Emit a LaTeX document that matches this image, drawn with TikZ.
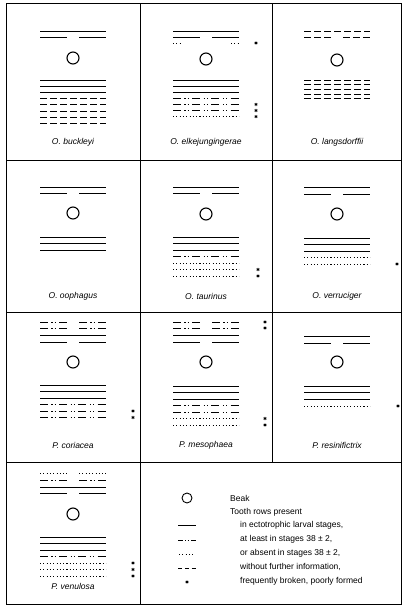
\documentclass[tikz,border=0pt]{standalone}
\usepackage{fontspec}
\setmainfont{Liberation Sans}
\tikzset{
  frame/.style={line width=0.8pt, black},
  tr/.style={line width=0.9pt, line cap=butt, black},
  sol/.style={tr},
  dotr/.style={tr, dash pattern=on 1.1pt off 2.2pt},
  ddr/.style={tr, dash pattern=on 8pt off 3.4pt on 1.2pt off 2pt on 1.2pt off 3.4pt},
  dshr/.style={tr, dash pattern=on 7pt off 3pt},
  beak/.style={circle, draw, line width=1.1pt, minimum size=12pt, inner sep=0pt},
  lab/.style={font=\fontsize{8.5}{10}\selectfont\itshape, inner sep=0pt},
  legt/.style={font=\fontsize{8.5}{10}\selectfont, inner sep=0pt, anchor=west},
  ast/.pic={\draw[line width=0.6pt] (0,-1.6)--(0,1.6) (-1.4,-0.8)--(1.4,0.8) (-1.4,0.8)--(1.4,-0.8);}
}
\newcommand{\rfull}[3]{\draw[#1] ({#2-33},#3) -- ({#2+33},#3);}
\newcommand{\rsegs}[3]{\draw[#1] ({#2-33},#3) -- ({#2-6},#3) ({#2+6},#3) -- ({#2+33},#3);}
\newcommand{\rends}[3]{\draw[#1] ({#2-33},#3) -- ({#2-25},#3) ({#2+25},#3) -- ({#2+33},#3);}
\begin{document}
\begin{tikzpicture}[x=1pt, y=-1pt]
\useasboundingbox (0,0) rectangle (402,605);
% grid
\draw[frame] (6,3) rectangle (401,604);
\draw[frame] (6,160) -- (401,160) (6,312) -- (401,312) (6,462) -- (401,462);
\draw[frame] (140,3) -- (140,604) (272,3) -- (272,462);

% ---------- O. buckleyi ----------
\rfull{sol}{73}{31}
\rsegs{sol}{73}{37}
\node[beak] (bA) at (73,58) {};
\rfull{sol}{73}{80}
\rfull{sol}{73}{86.2}
\rfull{sol}{73}{92.4}
\rfull{dshr}{73}{98.6}
\rfull{dshr}{73}{104.8}
\rfull{dshr}{73}{111}
\rfull{dshr}{73}{117.2}
\rfull{dshr}{73}{123.4}
\node[lab] (lA) at (73,142) {O. buckleyi};

% ---------- O. elkejungingerae ----------
\rfull{sol}{206}{31}
\rsegs{sol}{206}{37}
\rends{dotr}{206}{43}
\pic at (256,43) {ast};
\node[beak] (bB) at (206,59) {};
\rfull{sol}{206}{80}
\rfull{sol}{206}{86.1}
\rfull{sol}{206}{92.2}
\rfull{ddr}{206}{98.3}
\rfull{ddr}{206}{104.4}
\rfull{ddr}{206}{110.5}
\rfull{dotr}{206}{116.6}
\pic at (256,104.4) {ast};
\pic at (256,110.5) {ast};
\pic at (256,116.6) {ast};
\node[lab] (lB) at (206,142) {O. elkejungingerae};

% ---------- O. langsdorffii ----------
\rfull{dshr}{337}{31}
\rsegs{dshr}{337}{37}
\node[beak] (bC) at (337,60) {};
\rfull{dshr}{337}{80}
\rfull{dshr}{337}{84.7}
\rfull{dshr}{337}{89.4}
\rfull{dshr}{337}{94.1}
\rfull{dshr}{337}{98.8}
\node[lab] (lC) at (337,142) {O. langsdorffii};

% ---------- O. oophagus ----------
\rfull{sol}{73}{187}
\rsegs{sol}{73}{193}
\node[beak] (bD) at (73,213) {};
\rfull{sol}{73}{237}
\rfull{sol}{73}{243.5}
\rfull{sol}{73}{250}
\node[lab] (lD) at (73,296) {O. oophagus};

% ---------- O. taurinus ----------
\rfull{sol}{206}{187}
\rsegs{sol}{206}{193}
\node[beak] (bE) at (206,214) {};
\rfull{sol}{206}{237}
\rfull{sol}{206}{243.5}
\rfull{sol}{206}{250}
\rfull{ddr}{206}{256.5}
\rfull{dotr}{206}{263}
\rfull{dotr}{206}{269.5}
\rfull{dotr}{206}{276}
\pic at (258,269.5) {ast};
\pic at (258,276) {ast};
\node[lab] (lE) at (206,296) {O. taurinus};

% ---------- O. verruciger ----------
\rfull{sol}{337}{187}
\rsegs{sol}{337}{194}
\node[beak] (bF) at (337,214) {};
\rfull{sol}{337}{238}
\rfull{sol}{337}{244.5}
\rfull{sol}{337}{251}
\rfull{dotr}{337}{257.5}
\rfull{dotr}{337}{264}
\pic at (397,264) {ast};
\node[lab] (lF) at (337,296) {O. verruciger};

% ---------- P. coriacea ----------
\rsegs{ddr}{73}{322}
\rsegs{ddr}{73}{328}
\rfull{sol}{73}{335}
\rsegs{sol}{73}{342}
\node[beak] (bG) at (73,362) {};
\rfull{sol}{73}{385}
\rfull{sol}{73}{391.5}
\rfull{sol}{73}{398}
\rfull{ddr}{73}{404.5}
\rfull{ddr}{73}{411}
\rfull{ddr}{73}{417.5}
\pic at (133,411) {ast};
\pic at (133,417.5) {ast};
\node[lab] (lG) at (73,445) {P. coriacea};

% ---------- P. mesophaea ----------
\rsegs{ddr}{206}{322}
\rsegs{ddr}{206}{328}
\pic at (265,322) {ast};
\pic at (265,328) {ast};
\rfull{sol}{206}{335}
\rsegs{sol}{206}{342}
\node[beak] (bH) at (206,362) {};
\rfull{sol}{206}{386}
\rfull{sol}{206}{392.5}
\rfull{sol}{206}{399}
\rfull{ddr}{206}{405.5}
\rfull{ddr}{206}{412}
\rfull{dotr}{206}{418.5}
\rfull{dotr}{206}{425}
\pic at (265,418.5) {ast};
\pic at (265,425) {ast};
\node[lab] (lH) at (206,445) {P. mesophaea};

% ---------- P. resinifictrix ----------
\rfull{sol}{337}{336}
\rsegs{sol}{337}{343}
\node[beak] (bI) at (337,362) {};
\rfull{sol}{337}{386}
\rfull{sol}{337}{392.5}
\rfull{sol}{337}{399}
\rfull{dotr}{337}{406}
\pic at (398,406) {ast};
\node[lab] (lI) at (337,445) {P. resinifictrix};

% ---------- P. venulosa ----------
\rsegs{dotr}{73}{473}
\rsegs{ddr}{73}{480}
\rfull{sol}{73}{487}
\rsegs{sol}{73}{493}
\node[beak] (bJ) at (73,514) {};
\rfull{sol}{73}{537}
\rfull{sol}{73}{543.5}
\rfull{sol}{73}{550}
\rfull{ddr}{73}{556.5}
\rfull{dotr}{73}{563}
\rfull{dotr}{73}{569.5}
\rfull{dotr}{73}{576}
\pic at (133,563) {ast};
\pic at (133,569.5) {ast};
\pic at (133,576) {ast};
\node[lab] (lJ) at (73,586) {P. venulosa};

% ---------- legend ----------
\node[beak, minimum size=10pt, line width=0.9pt] (kB) at (187,498) {};
\draw[tr] (178,525) -- (196,525);
\draw[tr, dash pattern=on 4.5pt off 2.5pt on 1pt off 1.5pt on 1pt off 2.5pt] (178,540) -- (196,540);
\draw[tr, dotr] (179,554) -- (195,554);
\draw[tr, dash pattern=on 4pt off 2.8pt] (178,568) -- (196,568);
\pic at (187,582) {ast};
\node[legt] (t1) at (230,498) {Beak};
\node[legt] (t2) at (230,512) {Tooth rows present};
\node[legt] (t3) at (240,525) {in ectotrophic larval stages,};
\node[legt] (t4) at (240,539) {at least in stages 38 ± 2,};
\node[legt] (t5) at (240,553) {or absent in stages 38 ± 2,};
\node[legt] (t6) at (240,567) {without further information,};
\node[legt] (t7) at (240,581) {frequently broken, poorly formed};
\end{tikzpicture}
\end{document}
